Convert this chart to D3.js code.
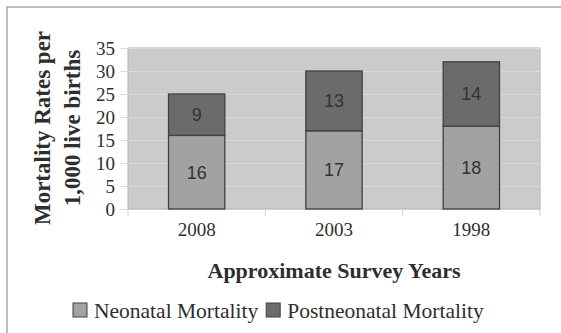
<!DOCTYPE html>
<html>
<head>
<meta charset="utf-8">
<script src="https://cdn.jsdelivr.net/npm/d3@7"></script>
<style>
  html, body { margin: 0; padding: 0; background: #fff; }
  svg { display: block; }
</style>
</head>
<body>
<svg id="chart" width="561" height="333"></svg>
<script>
// Survey years and mortality components (per 1,000 live births)
const years = ["2008", "2003", "1998"];
const neonatal = [16, 17, 18];
const postneonatal = [9, 13, 14];
const yTicks = [0, 5, 10, 15, 20, 25, 30, 35];
const seriesNames = ["Neonatal Mortality", "Postneonatal Mortality"];
const seriesColors = ["#a2a2a2", "#6b6b6b"];

const svg = d3.select("#chart");
const W = 561, H = 333;
const plot = { left: 128, right: 540, top: 48, bottom: 209 };

const serif = "'Liberation Serif', 'Times New Roman', serif";
const sans = "'Liberation Sans', Arial, sans-serif";
const textColor = "#2e2e2e";

// outer frame (top and left edges)
svg.append("path")
  .attr("d", `M7,${H} L7,7 L${W},7`)
  .attr("fill", "none")
  .attr("stroke", "#a8a8a8")
  .attr("stroke-width", 1.5);

const x = d3.scaleBand().domain(years).range([plot.left, plot.right]).paddingInner(0.59).paddingOuter(0.295);
const xb = d3.scaleBand().domain(years).range([plot.left, plot.right]);
const y = d3.scaleLinear().domain([0, 35]).range([plot.bottom, plot.top]);

// plot background
svg.append("rect")
  .attr("x", plot.left).attr("y", plot.top)
  .attr("width", plot.right - plot.left).attr("height", plot.bottom - plot.top)
  .attr("fill", "#cbcbcb")
  .attr("stroke", "#b4b4b4").attr("stroke-width", 1);

// y axis with gridlines
const yAxis = d3.axisLeft(y).tickValues(yTicks).tickSize(plot.right - plot.left + 8).tickPadding(5);
const gy = svg.append("g").attr("transform", `translate(${plot.right},0)`).call(yAxis);
gy.select(".domain").remove();
gy.selectAll(".tick line").attr("stroke", "#dadada").attr("stroke-width", 1);
gy.selectAll(".tick text")
  .attr("font-family", serif).attr("font-size", 19).attr("fill", textColor);

// x axis
const xAxis = d3.axisBottom(xb).tickSize(0).tickPadding(14);
const gx = svg.append("g").attr("transform", `translate(0,${plot.bottom})`).call(xAxis);
gx.select(".domain").attr("stroke", "#d0d0d0");
gx.selectAll(".tick text")
  .attr("font-family", serif).attr("font-size", 19).attr("fill", textColor);
// category separators below the baseline
const sepPos = [plot.left, ...years.slice(1).map(d => xb(d)), plot.right];
gx.selectAll("line.sep").data(sepPos).enter().append("line")
  .attr("class", "sep")
  .attr("x1", d => d).attr("x2", d => d)
  .attr("y1", 0).attr("y2", 7)
  .attr("stroke", "#d0d0d0");

// stacked bars
const stackData = years.map((yr, i) => ({ year: yr, n: neonatal[i], p: postneonatal[i] }));
const stack = d3.stack().keys(["n", "p"])(stackData);

const layers = svg.selectAll("g.layer").data(stack).enter().append("g").attr("class", "layer");
layers.each(function(layer, li) {
  const g = d3.select(this);
  g.selectAll("rect").data(layer).enter().append("rect")
    .attr("x", d => x(d.data.year))
    .attr("width", x.bandwidth())
    .attr("y", d => y(d[1]))
    .attr("height", d => y(d[0]) - y(d[1]))
    .attr("fill", seriesColors[li])
    .attr("stroke", "#404040")
    .attr("stroke-width", 1.3);
  g.selectAll("text").data(layer).enter().append("text")
    .attr("x", d => x(d.data.year) + x.bandwidth() / 2)
    .attr("y", d => (y(d[0]) + y(d[1])) / 2)
    .attr("dy", "0.36em")
    .attr("text-anchor", "middle")
    .attr("font-family", sans).attr("font-size", 18)
    .attr("fill", "#333")
    .text(d => d[1] - d[0]);
});

// y axis title (two lines)
const yTitle = svg.append("text")
  .attr("transform", `translate(0,128) rotate(-90)`)
  .attr("text-anchor", "middle")
  .attr("font-family", serif).attr("font-weight", "bold").attr("font-size", 23)
  .attr("fill", textColor);
yTitle.append("tspan").attr("x", 0).attr("y", 50).text("Mortality Rates per");
yTitle.append("tspan").attr("x", 0).attr("y", 80).text("1,000 live births");

// x axis title
svg.append("text")
  .attr("x", (plot.left + plot.right) / 2).attr("y", 278)
  .attr("text-anchor", "middle")
  .attr("font-family", serif).attr("font-weight", "bold").attr("font-size", 22)
  .attr("fill", textColor)
  .text("Approximate Survey Years");

// legend
const legend = svg.append("g").attr("transform", "translate(73,318)");
let lx = 0;
seriesNames.forEach((name, i) => {
  legend.append("rect")
    .attr("x", lx).attr("y", -15).attr("width", 14).attr("height", 14)
    .attr("fill", seriesColors[i]).attr("stroke", "#404040").attr("stroke-width", 1);
  const t = legend.append("text")
    .attr("x", lx + 21).attr("y", 0)
    .attr("font-family", serif).attr("font-size", 21.5).attr("fill", textColor)
    .text(name);
  lx += 21 + t.node().getComputedTextLength() + 8;
});
</script>
</body>
</html>
